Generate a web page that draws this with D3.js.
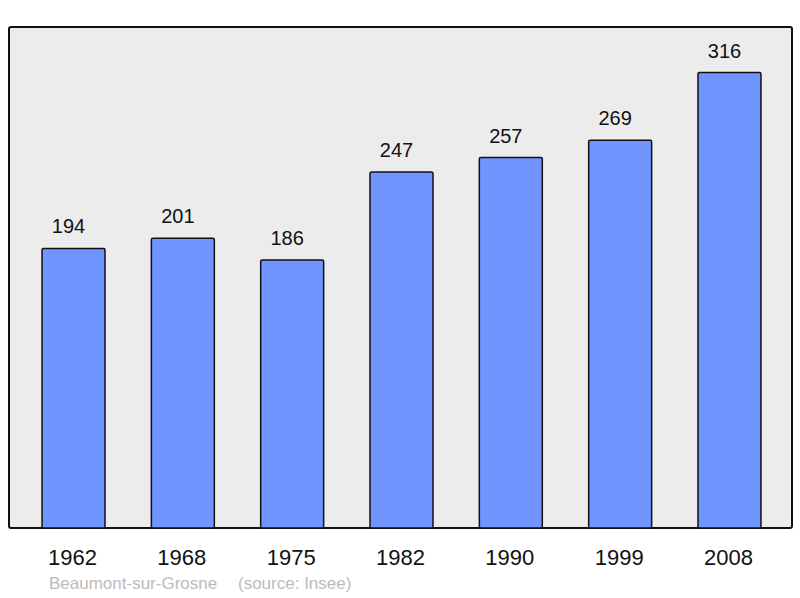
<!DOCTYPE html>
<html>
<head>
<meta charset="utf-8">
<script src="https://cdn.jsdelivr.net/npm/d3@7"></script>
<style>
  body { margin: 0; background: #fff; }
  text { font-family: "Liberation Sans", Arial, sans-serif; }
</style>
</head>
<body>
<svg width="800" height="598"></svg>
<script>
var years = ["1962", "1968", "1975", "1982", "1990", "1999", "2008"];
var population = [194, 201, 186, 247, 257, 269, 316];
var town = "Beaumont-sur-Grosne";
var sourceNote = "(source: Insee)";

var svg = d3.select("svg");

var panel = {left: 9, top: 27, right: 792, bottom: 528};

var x = d3.scaleBand()
  .domain(years)
  .range([panel.left + 1, panel.right + 1])
  .paddingInner(0.424)
  .paddingOuter(0.293);

var y = d3.scaleLinear()
  .domain([0, d3.max(population) * 1.1])
  .range([panel.bottom, panel.top]);

svg.append("rect")
  .attr("x", panel.left)
  .attr("y", panel.top)
  .attr("width", panel.right - panel.left)
  .attr("height", panel.bottom - panel.top)
  .attr("rx", 2)
  .attr("fill", "#ececec")
  .attr("stroke", "#111")
  .attr("stroke-width", 2);

var data = years.map((d, i) => ({year: d, value: population[i]}));

svg.selectAll("rect.bar")
  .data(data)
  .enter().append("rect")
  .attr("class", "bar")
  .attr("x", d => x(d.year))
  .attr("y", d => y(d.value))
  .attr("width", x.bandwidth())
  .attr("height", d => panel.bottom - y(d.value))
  .attr("rx", 1.5)
  .attr("fill", "#7095ff")
  .attr("stroke", "#111")
  .attr("stroke-width", 1.5);

// value labels sit a little left of the bar centre, like the original
svg.selectAll("text.value")
  .data(data)
  .enter().append("text")
  .attr("class", "value")
  .attr("x", d => x(d.year) + x.bandwidth() / 2 - 5)
  .attr("y", d => y(d.value) - 15)
  .attr("text-anchor", "middle")
  .attr("font-size", 20)
  .attr("fill", "#111")
  .text(d => d.value);

svg.selectAll("text.year")
  .data(data)
  .enter().append("text")
  .attr("class", "year")
  .attr("x", d => x(d.year) + x.bandwidth() / 2 - 1)
  .attr("y", 565)
  .attr("text-anchor", "middle")
  .attr("font-size", 22)
  .attr("fill", "#111")
  .text(d => d.year);

svg.append("text")
  .attr("x", 49)
  .attr("y", 589)
  .attr("font-size", 17)
  .attr("fill", "#bbbbbb")
  .text(town);

svg.append("text")
  .attr("x", 238)
  .attr("y", 589)
  .attr("font-size", 17)
  .attr("fill", "#bbbbbb")
  .text(sourceNote);
</script>
</body>
</html>
